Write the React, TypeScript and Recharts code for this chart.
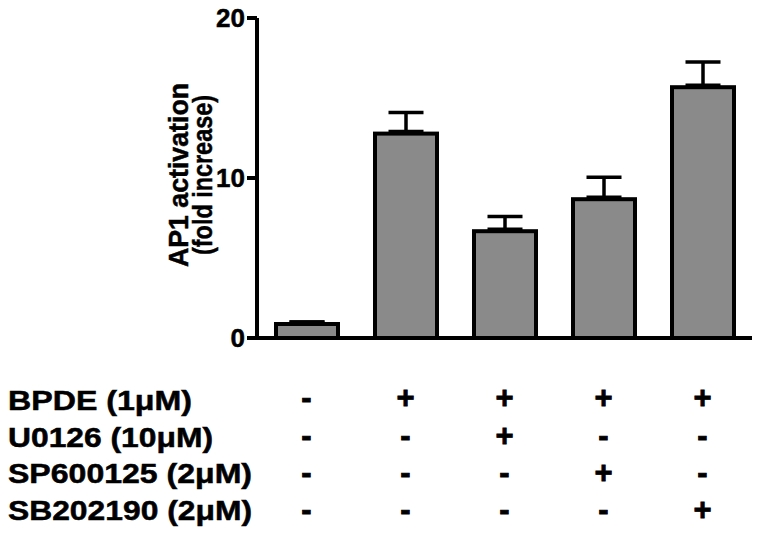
import React from 'react';
import { BarChart, Bar, XAxis, YAxis, ErrorBar } from 'recharts';

// ---- data ----
const categories = ['Control', 'BPDE', 'BPDE+U0126', 'BPDE+SP600125', 'BPDE+SB202190'];
const foldIncrease = [1.0, 12.9, 6.8, 8.8, 15.8];
const sem = [0, 1.2, 0.8, 1.25, 1.45];
const yTicks = [0, 10, 20];
const yLabelLines = ['AP1 activation', '(fold increase)'];
const rowLabels = ['BPDE (1\u03bcM)', 'U0126 (10\u03bcM)', 'SP600125 (2\u03bcM)', 'SB202190 (2\u03bcM)'];
const bpdeSigns = ['-', '+', '+', '+', '+'];
const u0126Signs = ['-', '-', '+', '-', '-'];
const sp600125Signs = ['-', '-', '-', '+', '-'];
const sb202190Signs = ['-', '-', '-', '-', '+'];
const signRows = [bpdeSigns, u0126Signs, sp600125Signs, sb202190Signs];

const data = categories.map((c, i) => ({ name: c, value: foldIncrease[i], err: [0, sem[i]] }));

// ---- styling ----
const FONT = '"Liberation Sans", Arial, Helvetica, sans-serif';
const labelBaselineOffsets = [72, 109, 145, 182];
const signBaselineOffsets = [70, 108, 145, 182];
const labelLengths = [184, 205, 244, 244];
const yLabelLengths = [184, 160];
const yLabelX = [188, 212];

function TableTick(props: any) {
  const { x, y, index } = props;
  return (
    <g>
      {signRows.map((row, r) => (
        <text
          key={'s' + r}
          x={x}
          y={y + signBaselineOffsets[r]}
          textAnchor="middle"
          fontFamily={FONT}
          fontWeight="bold"
          fontSize={31}
          fill="#000"
          stroke="#000"
          strokeWidth={0.8}
        >
          {row[index]}
        </text>
      ))}
      {index === 0 &&
        rowLabels.map((lab, r) => (
          <text
            key={'l' + r}
            x={8}
            y={y + labelBaselineOffsets[r]}
            textAnchor="start"
            fontFamily={FONT}
            fontWeight="bold"
            fontSize={27}
            fill="#000"
            stroke="#000"
            strokeWidth={0.5}
            textLength={labelLengths[r]}
            lengthAdjust="spacingAndGlyphs"
          >
            {lab}
          </text>
        ))}
    </g>
  );
}

function YLabel(props: any) {
  const vb = props.viewBox || { x: 0, y: 0, width: 0, height: 0 };
  const cy = vb.y + vb.height / 2 - 3;
  return (
    <g>
      {yLabelLines.map((line, i) => {
        const cx = vb.x + yLabelX[i];
        return (
          <text
            key={i}
            x={cx}
            y={cy}
            transform={`rotate(-90, ${cx}, ${cy})`}
            textAnchor="middle"
            fontFamily={FONT}
            fontWeight="bold"
            fontSize={28}
            fill="#000"
            stroke="#000"
            strokeWidth={0.5}
            textLength={yLabelLengths[i]}
            lengthAdjust="spacingAndGlyphs"
          >
            {line}
          </text>
        );
      })}
    </g>
  );
}

function InsetBar(props: any) {
  const { x, y, width, height } = props;
  const sw = 4;
  if (width == null || height == null) return null;
  return (
    <rect
      x={x + sw / 2}
      y={y + sw / 2}
      width={Math.max(0, width - sw)}
      height={Math.max(0, height - sw / 2)}
      fill="#8a8a8a"
      stroke="#000"
      strokeWidth={sw}
    />
  );
}

export default function App() {
  return (
    <div style={{ position: 'absolute', left: 0, top: 0, width: 762, height: 536, background: '#fff' }}>
      <BarChart
        width={762}
        height={536}
        data={data}
        margin={{ top: 18, right: 10, bottom: 0, left: 0 }}
        barSize={66}
      >
        <XAxis
          dataKey="name"
          height={198}
          interval={0}
          tickLine={false}
          tickSize={0}
          tickMargin={0}
          axisLine={{ stroke: '#000', strokeWidth: 4 }}
          tick={<TableTick />}
        />
        <YAxis
          width={257}
          domain={[0, 20]}
          ticks={yTicks}
          interval={0}
          tickSize={10}
          tickMargin={2}
          axisLine={{ stroke: '#000', strokeWidth: 4 }}
          tickLine={{ stroke: '#000', strokeWidth: 4 }}
          tick={{ fill: '#000', stroke: '#000', strokeWidth: 0.5, fontSize: 26, fontWeight: 'bold', fontFamily: FONT }}
          label={{ content: <YLabel /> }}
        />
        <Bar dataKey="value" isAnimationActive={false} shape={<InsetBar />}>
          <ErrorBar dataKey="err" direction="y" width={17.5} stroke="#000" strokeWidth={3.5} isAnimationActive={false} />
        </Bar>
      </BarChart>
    </div>
  );
}
